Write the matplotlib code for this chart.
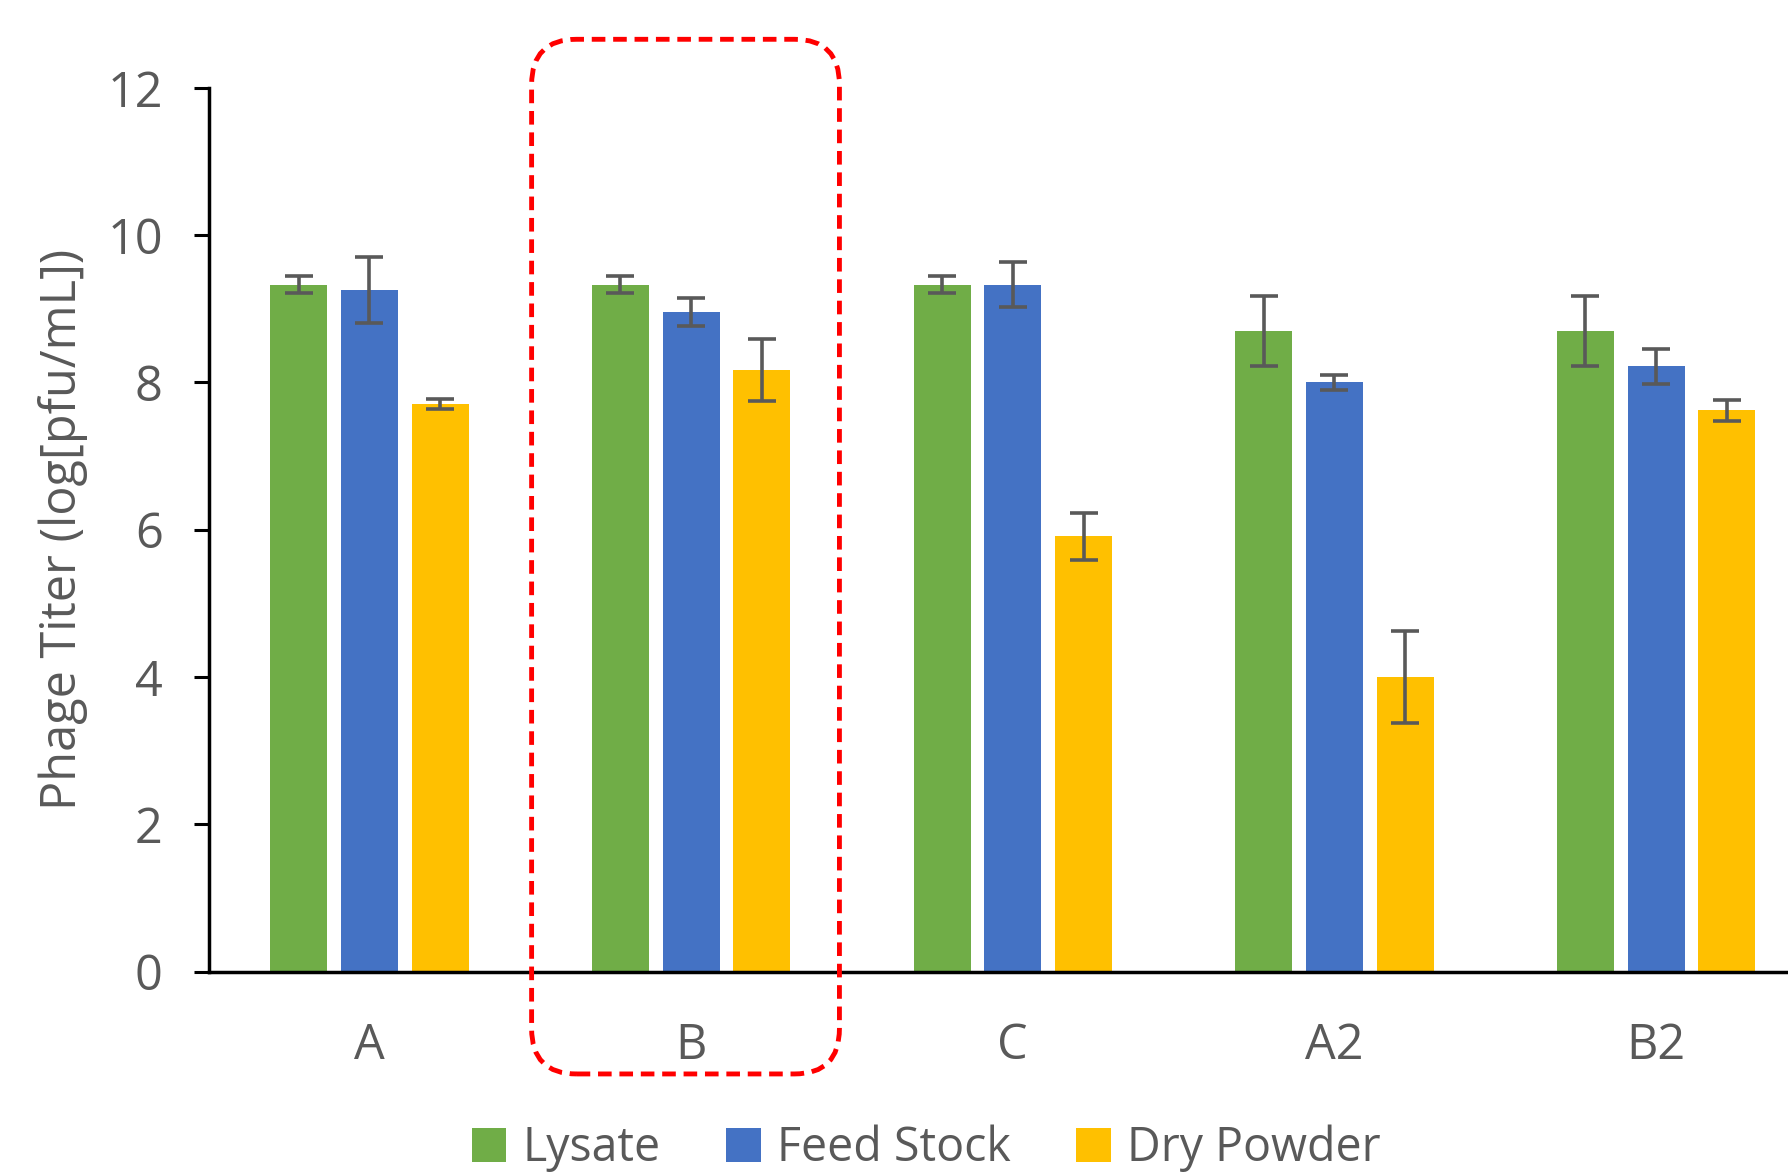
import matplotlib
matplotlib.use("Agg")
import matplotlib.pyplot as plt
import numpy as np
from matplotlib.patches import FancyBboxPatch
from matplotlib.patches import Patch

categories = ["A", "B", "C", "A2", "B2"]
series_names = ["Lysate", "Feed Stock", "Dry Powder"]
lysate = [9.33, 9.33, 9.33, 8.70, 8.70]
lysate_err = [0.11, 0.11, 0.11, 0.47, 0.47]
feed = [9.26, 8.96, 9.33, 8.00, 8.22]
feed_err = [0.45, 0.19, 0.31, 0.10, 0.24]
dry = [7.71, 8.17, 5.91, 4.00, 7.62]
dry_err = [0.07, 0.42, 0.32, 0.62, 0.14]
yticks = [0, 2, 4, 6, 8, 10, 12]

colors = ["#70AD47", "#4472C4", "#FFC000"]
text_color = "#595959"
plt.rcParams['font.family'] = ['Open Sans', 'DejaVu Sans']

fig = plt.figure(figsize=(17.88, 11.72), dpi=100)
ax = fig.add_axes([0.1167, 0.171, 0.8833, 0.754])

x = np.arange(len(categories))
width = 0.177
offset = 0.22
for i, (vals, errs) in enumerate([(lysate, lysate_err), (feed, feed_err), (dry, dry_err)]):
    pos = x + (i - 1) * offset
    ax.bar(pos, vals, width, color=colors[i], zorder=2)
    ax.errorbar(pos, vals, yerr=errs, fmt='none', ecolor=text_color,
                elinewidth=2.6, capsize=10, capthick=2.6, zorder=3)

ax.set_xlim(-0.5, 4.41)
ax.set_ylim(0, 12)
ax.set_yticks(yticks)
ax.set_xticks(x)
ax.set_xticklabels(categories)
ax.tick_params(axis='y', labelsize=35, length=11, width=2.2, direction='out',
               pad=22, color='black', labelcolor=text_color)
ax.tick_params(axis='x', labelsize=35, labelcolor=text_color, length=0, pad=36)
ax.spines['top'].set_visible(False)
ax.spines['right'].set_visible(False)
ax.spines['left'].set_linewidth(2.5)
ax.spines['bottom'].set_linewidth(2.5)
ax.set_ylabel("Phage Titer (log[pfu/mL])", fontsize=35, color=text_color, labelpad=14)

# red dashed rounded highlight box around group B
box = FancyBboxPatch((0.504, -1.39), 0.957, 14.05,
                     boxstyle="round,pad=0.0,rounding_size=0.14",
                     mutation_aspect=4.4,
                     fill=False, edgecolor="#FF0000", linewidth=3.5,
                     linestyle=(0, (2.8, 1.6)), clip_on=False, zorder=5,
                     transform=ax.transData)
ax.add_patch(box)

handles = [Patch(facecolor=c) for c in colors]
fig.legend(handles, series_names, loc='lower center', bbox_to_anchor=(0.518, -0.036),
           ncol=3, frameon=False, fontsize=33.5, labelcolor=text_color,
           handlelength=0.75, handleheight=0.75, handletextpad=0.35, columnspacing=1.4)

fig.savefig("out.png", dpi=100)
